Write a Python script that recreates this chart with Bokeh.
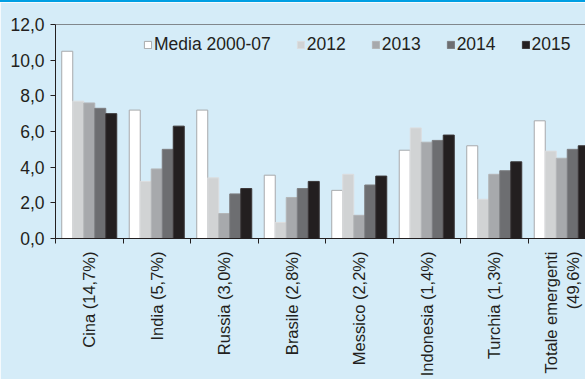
import math
from bokeh.plotting import figure
from bokeh.models import (Range1d, FixedTicker, Span, Legend, LegendItem,
                          ColumnDataSource, Div)
from bokeh.transform import dodge
from bokeh.layouts import column
from bokeh.embed import file_html
from bokeh.resources import INLINE

# ---- data ----
categories = ["Cina (14,7%)", "India (5,7%)", "Russia (3,0%)", "Brasile (2,8%)",
              "Messico (2,2%)", "Indonesia (1,4%)", "Turchia (1,3%)",
              "Totale emergenti\n(49,6%)"]
series_names = ["Media 2000-07", "2012", "2013", "2014", "2015"]
media_2000_07 = [10.5, 7.2, 7.2, 3.55, 2.7, 4.95, 5.2, 6.6]
y2012 = [7.7, 3.2, 3.4, 0.9, 3.6, 6.2, 2.2, 4.9]
y2013 = [7.6, 3.9, 1.4, 2.3, 1.3, 5.4, 3.6, 4.5]
y2014 = [7.3, 5.0, 2.5, 2.8, 3.0, 5.5, 3.8, 5.0]
y2015 = [7.0, 6.3, 2.8, 3.2, 3.5, 5.8, 4.3, 5.2]
y_ticks = [0, 2, 4, 6, 8, 10, 12]
y_tick_labels = ["0,0", "2,0", "4,0", "6,0", "8,0", "10,0", "12,0"]

# ---- style ----
BG = "#d5ecf8"
TOPBLUE = "#009fe3"
INK = "#231f20"
fills = ["#ffffff", "#d1d3d4", "#a7a9ac", "#6d6e71", "#231f20"]
lines = ["#a7a9ac", "#dcdddf", "#b3b5b7", "#7d7e81", "#3a3637"]
FONT = "Liberation Sans"
W, H = 585, 377

idx = list(range(len(categories)))
src = ColumnDataSource(dict(x=idx, m=media_2000_07, a=y2012, b=y2013,
                            c=y2014, d=y2015))

p = figure(width=W, height=H,
           x_range=Range1d(-0.5, -0.5 + 530 / 67.5), y_range=Range1d(0, 12),
           output_backend="svg", toolbar_location=None,
           min_border_left=55, min_border_right=0, min_border_top=22,
           min_border_bottom=141,
           background_fill_color=BG, border_fill_color=BG,
           outline_line_color=None)

bw = 0.163
offsets = [-2 * bw, -bw, 0, bw, 2 * bw]
cols = ["m", "a", "b", "c", "d"]
rends = []
for k in range(5):
    r = p.vbar(x=dodge("x", offsets[k], range=p.x_range), top=cols[k],
               width=bw, source=src, fill_color=fills[k],
               line_color=lines[k], line_width=1)
    rends.append(r)

p.add_layout(Span(location=12, dimension="width", line_color=INK,
                  line_width=1))

p.xgrid.visible = False
p.ygrid.visible = False

xa = p.xaxis[0]
xa.ticker = FixedTicker(ticks=idx, minor_ticks=[i - 0.5 for i in range(len(categories) + 1)])
xa.major_label_overrides = {i: categories[i] for i in idx}
xa.major_tick_out = 0
xa.major_tick_in = 0
xa.minor_tick_out = 5
xa.minor_tick_in = 0
xa.minor_tick_line_color = INK
xa.axis_line_color = INK
xa.major_label_orientation = math.pi / 2
xa.major_label_text_font = FONT
xa.major_label_text_font_size = "16.5px"
xa.major_label_text_color = INK
xa.major_label_standoff = 8

ya = p.yaxis[0]
ya.ticker = FixedTicker(ticks=y_ticks)
ya.major_label_overrides = {y_ticks[i]: y_tick_labels[i] for i in range(len(y_ticks))}
ya.major_tick_out = 5
ya.major_tick_in = 0
ya.major_tick_line_color = INK
ya.minor_tick_line_color = None
ya.axis_line_color = INK
ya.major_label_text_font = FONT
ya.major_label_text_font_size = "17.5px"
ya.major_label_text_color = INK
ya.major_label_standoff = 6

legend = Legend(items=[LegendItem(label=series_names[k], renderers=[rends[k]])
                       for k in range(5)],
                orientation="horizontal", location=(88, 183),
                glyph_width=9, glyph_height=9, label_standoff=2, spacing=25,
                padding=0, margin=0, border_line_color=None,
                background_fill_alpha=0,
                label_text_font=FONT, label_text_font_size="17.5px",
                label_text_color=INK)
p.add_layout(legend)

top_line = Div(text="", width=W, height=2, margin=0,
               styles={"background-color": TOPBLUE})
layout = column(top_line, p, spacing=0)

open("out.html", "w").write(file_html(layout, INLINE))
